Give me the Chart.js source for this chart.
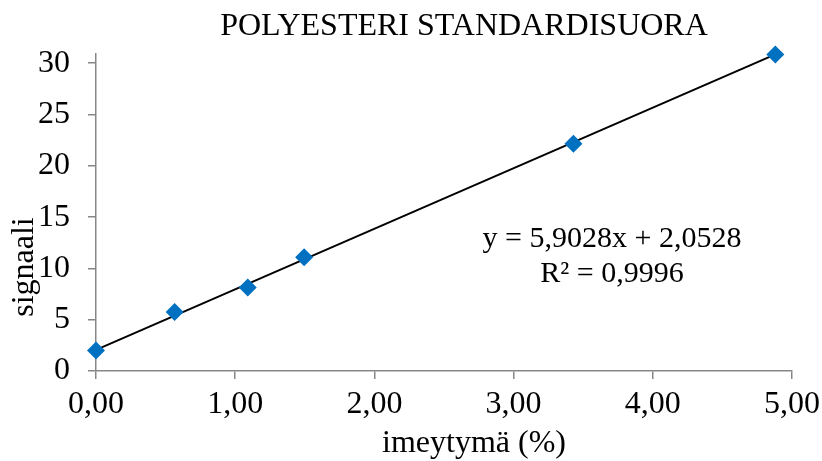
<!DOCTYPE html>
<html>
<head>
<meta charset="utf-8">
<script src="https://cdn.jsdelivr.net/npm/chart.js@4/dist/chart.umd.min.js"></script>
<style>
  html, body { margin: 0; padding: 0; background: #fff; }
  #wrap { width: 822px; height: 461px; }
</style>
</head>
<body>
<div id="wrap"><canvas id="c" width="822" height="461"></canvas></div>
<script>
// Standard curve: absorption (%) vs. signal
const absorption = [0.00, 0.565, 1.09, 1.495, 3.43, 4.88];
const signal = [2.0, 5.75, 8.15, 11.1, 22.15, 30.85];

// Linear fit reported on the chart
const slope = 5.9028;
const intercept = 2.0528;
const rSquared = 0.9996;

const chartTitle = 'POLYESTERI STANDARDISUORA';
const xTitle = 'imeytymä (%)';
const yTitle = 'signaali';
const xTickValues = [0, 1, 2, 3, 4, 5];
const yTickValues = [0, 5, 10, 15, 20, 25, 30];

const fmt = (v, d) => v.toFixed(d).replace('.', ',');
const FONT = '"Liberation Serif", "Times New Roman", serif';
const AXIS = '#878787';

const xMin = Math.min(...absorption);
const xMax = Math.max(...absorption);
const fitLine = [xMin, xMax].map(x => ({ x, y: slope * x + intercept }));

// Chart title, axis titles and the fit equation
const overlay = {
  id: 'overlay',
  afterDraw(chart) {
    const { ctx, chartArea } = chart;
    ctx.save();
    ctx.fillStyle = '#000';
    ctx.textAlign = 'center';
    ctx.textBaseline = 'alphabetic';
    ctx.font = '32px ' + FONT;
    ctx.fillText(chartTitle, 464, 35);
    ctx.fillText(xTitle, 474, 452);
    ctx.save();
    ctx.translate(33, 267);
    ctx.rotate(-Math.PI / 2);
    ctx.fillText(yTitle, 0, 0);
    ctx.restore();
    const cx = chartArea.left + 516;
    ctx.font = '30px ' + FONT;
    ctx.fillText('y = ' + fmt(slope, 4) + 'x + ' + fmt(intercept, 4), cx, 247);
    ctx.fillText('R² = ' + fmt(rSquared, 4), cx, 282);
    ctx.restore();
  }
};

new Chart(document.getElementById('c'), {
  type: 'scatter',
  data: {
    datasets: [
      {
        type: 'line',
        data: fitLine,
        borderColor: '#000',
        borderWidth: 2,
        pointRadius: 0,
        fill: false,
        clip: false,
        order: 2
      },
      {
        data: absorption.map((x, i) => ({ x, y: signal[i] })),
        pointStyle: 'rectRot',
        pointRadius: 9,
        pointBackgroundColor: '#0070C0',
        pointBorderColor: '#0070C0',
        pointBorderWidth: 0,
        clip: false,
        order: 1
      }
    ]
  },
  options: {
    responsive: false,
    animation: false,
    layout: { padding: { top: 54, right: 30, left: 0, bottom: 0 } },
    plugins: { legend: { display: false }, tooltip: { enabled: false } },
    scales: {
      x: {
        type: 'linear',
        min: 0,
        max: 5,
        afterBuildTicks: s => { s.ticks = xTickValues.map(v => ({ value: v })); },
        afterFit: s => { s.height = 90; s.paddingLeft = 0; s.paddingRight = 0; },
        border: { display: true, color: AXIS, width: 1.5 },
        grid: { display: true, drawOnChartArea: false, drawTicks: true, tickLength: 8, color: AXIS, lineWidth: 1.5 },
        ticks: {
          color: '#000',
          font: { family: FONT, size: 32 },
          padding: 6,
          maxRotation: 0,
          autoSkip: false,
          callback: v => fmt(v, 2)
        }
      },
      y: {
        type: 'linear',
        min: 0,
        max: 30.9,
        afterBuildTicks: s => { s.ticks = yTickValues.map(v => ({ value: v })); },
        afterFit: s => { s.width = 96; },
        border: { display: true, color: AXIS, width: 1.5 },
        grid: { display: true, drawOnChartArea: false, drawTicks: true, tickLength: 8, color: AXIS, lineWidth: 1.5 },
        ticks: {
          color: '#000',
          font: { family: FONT, size: 32 },
          padding: 18,
          autoSkip: false,
          callback: v => String(v)
        }
      }
    }
  },
  plugins: [overlay]
});
</script>
</body>
</html>
